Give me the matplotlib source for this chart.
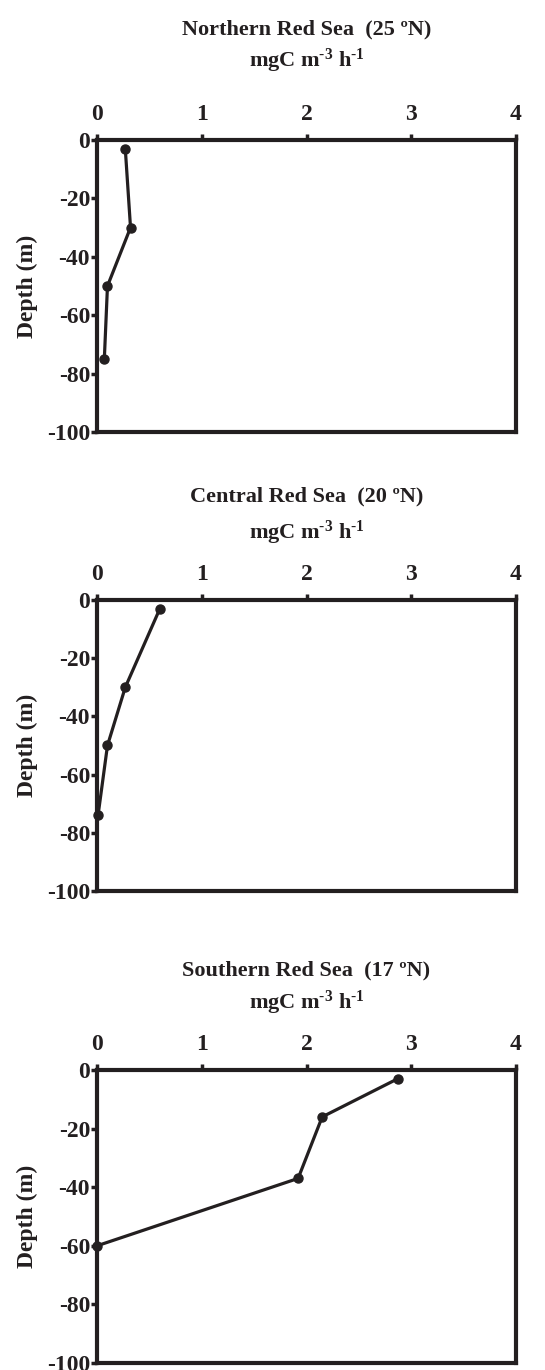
import matplotlib.pyplot as plt

plt.rcParams['font.family'] = 'Liberation Serif'
plt.rcParams['font.weight'] = 'bold'
plt.rcParams['axes.labelweight'] = 'bold'
plt.rcParams['mathtext.fontset'] = 'custom'
plt.rcParams['mathtext.rm'] = 'Liberation Serif:bold'
plt.rcParams['mathtext.bf'] = 'Liberation Serif:bold'
plt.rcParams['mathtext.default'] = 'bf'
plt.rcParams['axes.unicode_minus'] = False

# productivity profiles (mgC m-3 h-1) vs depth (m)
titles = ['Northern Red Sea  (25 \u00baN)',
          'Central Red Sea  (20 \u00baN)',
          'Southern Red Sea  (17 \u00baN)']
north_x = [0.27, 0.32, 0.10, 0.07]
north_depth = [-3, -30, -50, -75]
central_x = [0.60, 0.27, 0.10, 0.01]
central_depth = [-3, -30, -50, -74]
south_x = [2.87, 2.15, 1.92, 0.0]
south_depth = [-3, -16, -37, -60]

xs = [north_x, central_x, south_x]
depths = [north_depth, central_depth, south_depth]

W, H = 545, 1370
ink = '#231f20'

fig = plt.figure(figsize=(W / 100, H / 100), dpi=100)

# axes boxes in pixels: (top, bottom), plus title / unit baselines
tops = [140, 600, 1070]
bottoms = [432, 891, 1363]
title_y = [34, 501, 975]
unit_y = [67, 539, 1009]
left, right = 97, 516

for i in range(3):
    ax = fig.add_axes([left / W, 1 - bottoms[i] / H,
                       (right - left) / W, (bottoms[i] - tops[i]) / H])
    ax.plot(xs[i], depths[i], color=ink, lw=2.3, marker='o', ms=6.5,
            clip_on=False, zorder=3)
    ax.set_xlim(0, 4)
    ax.set_ylim(-100, 0)
    ax.set_xticks([0, 1, 2, 3, 4])
    ax.set_yticks([0, -20, -40, -60, -80, -100])
    ax.xaxis.tick_top()
    ax.tick_params(axis='x', direction='out', length=4, width=2.5,
                   pad=7, labelsize=17, colors=ink)
    ax.tick_params(axis='y', direction='out', length=4, width=2.5,
                   pad=1, labelsize=17, colors=ink)
    for s in ax.spines.values():
        s.set_linewidth(3)
        s.set_color(ink)
    ax.set_ylabel('Depth (m)', fontsize=17, color=ink, labelpad=6)
    cx = (left + right) / 2 / W
    fig.text(cx, 1 - title_y[i] / H, titles[i], ha='center', va='baseline',
             fontsize=16, color=ink)
    fig.text(cx, 1 - unit_y[i] / H, r'mgC m$^{\text{-3}}$ h$^{\text{-1}}$',
             ha='center', va='baseline', fontsize=16, color=ink)

fig.savefig('out.png', dpi=100)
